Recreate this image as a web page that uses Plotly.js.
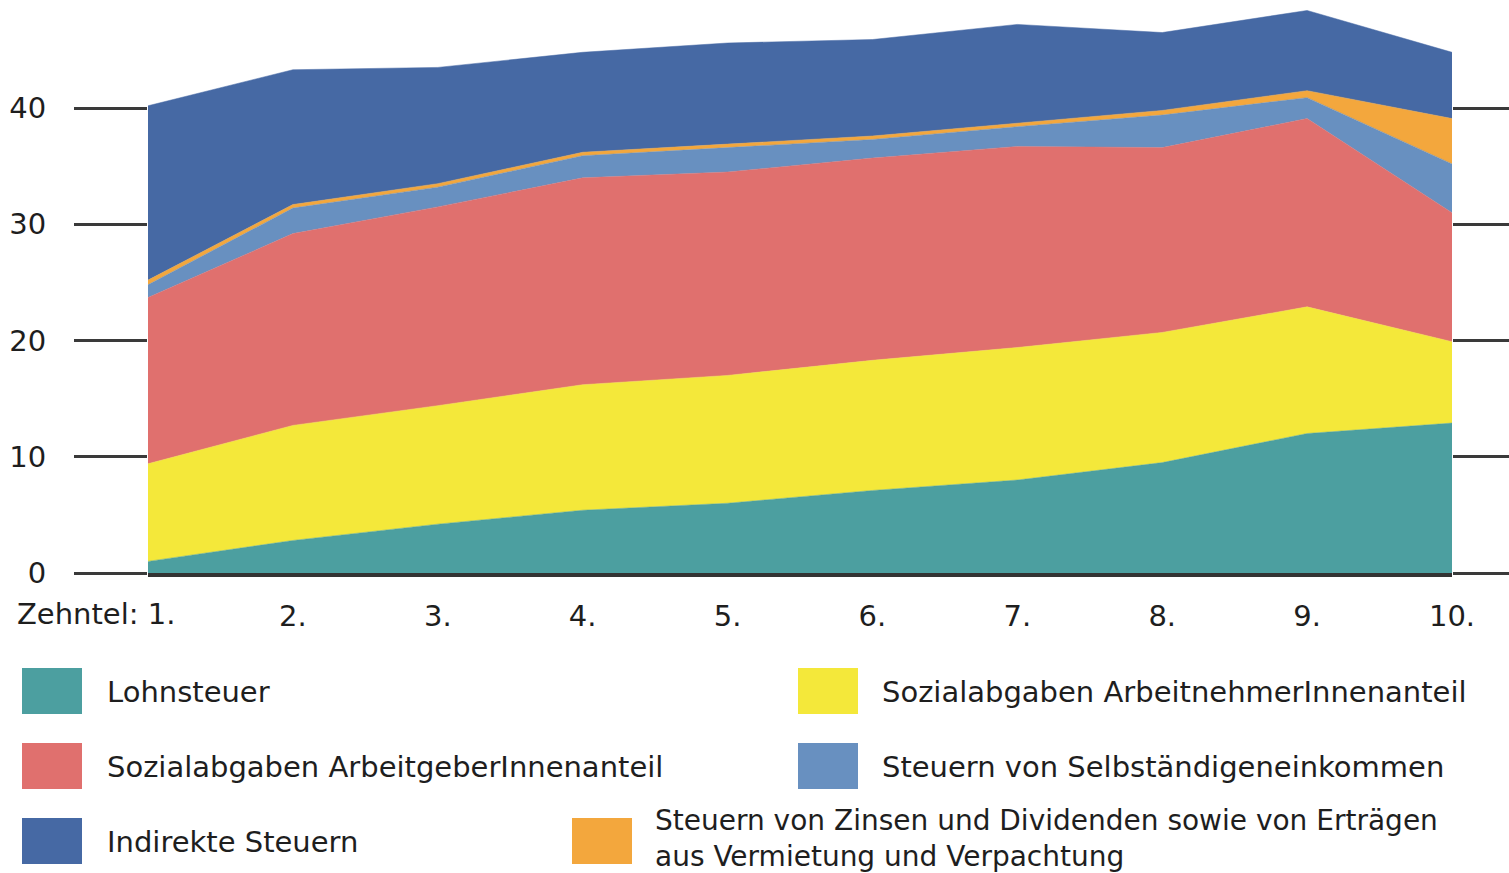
<!DOCTYPE html>
<html>
<head>
<meta charset="utf-8">
<script src="https://cdn.plot.ly/plotly-3.0.1.min.js"></script>
<style>html,body{margin:0;padding:0;background:#fff;}#chart{width:1509px;height:873px;}</style>
</head>
<body>
<div id="chart"></div>
<script>
// Categories (income deciles)
const deciles = [1, 2, 3, 4, 5, 6, 7, 8, 9, 10];
const decileLabels = ["1.", "2.", "3.", "4.", "5.", "6.", "7.", "8.", "9.", "10."];
const xPrefix = "Zehntel:";

// Series values (% of income), stacked bottom -> top
const lohnsteuer      = [1.0, 2.8, 4.2, 5.4, 6.0, 7.1, 8.0, 9.5, 12.0, 12.9];
const svArbeitnehmer  = [8.4, 9.9, 10.2, 10.8, 11.0, 11.2, 11.4, 11.2, 10.9, 7.0];
const svArbeitgeber   = [14.3, 16.5, 17.1, 17.8, 17.5, 17.4, 17.3, 15.9, 16.2, 11.1];
const selbstaendige   = [1.1, 2.2, 1.7, 1.9, 2.1, 1.6, 1.7, 2.8, 1.8, 4.2];
const zinsenErtraege  = [0.4, 0.3, 0.3, 0.3, 0.3, 0.3, 0.3, 0.4, 0.6, 3.9];
const indirekteSteuern= [15.0, 11.6, 10.0, 8.6, 8.7, 8.3, 8.5, 6.7, 6.9, 5.7];

const seriesNames = [
  "Lohnsteuer",
  "Sozialabgaben ArbeitnehmerInnenanteil",
  "Sozialabgaben ArbeitgeberInnenanteil",
  "Steuern von Selbständigeneinkommen",
  "Steuern von Zinsen und Dividenden sowie von Erträgen<br>aus Vermietung und Verpachtung",
  "Indirekte Steuern"
];
const seriesValues = [lohnsteuer, svArbeitnehmer, svArbeitgeber, selbstaendige, zinsenErtraege, indirekteSteuern];
const seriesColors = ["#4c9fa0", "#f4e83a", "#e0706e", "#6890c0", "#f3a73d", "#4669a4"];

const yTicks = [0, 10, 20, 30, 40];

const traces = seriesValues.map((vals, i) => ({
  type: "scatter",
  mode: "lines",
  x: deciles,
  y: vals,
  name: seriesNames[i],
  stackgroup: "one",
  line: {width: 0.5, color: seriesColors[i]},
  fillcolor: seriesColors[i],
  hoverinfo: "skip",
  showlegend: false
}));

// pixel -> paper helpers for legend placement
const L = 148, R = 57, T = 0, B = 300, W = 1509, H = 873;
const PW = W - L - R, PH = H - T - B;
const X = p => (p - L) / PW;
const Y = p => (H - B - p) / PH;

const legendPos = [
  {i: 0, sx: 22,  sy: 668, tx: 105, ty: 692, fs: 29},
  {i: 1, sx: 798, sy: 668, tx: 880, ty: 692, fs: 29},
  {i: 2, sx: 22,  sy: 743, tx: 105, ty: 767, fs: 29},
  {i: 3, sx: 798, sy: 743, tx: 880, ty: 767, fs: 29},
  {i: 5, sx: 22,  sy: 818, tx: 105, ty: 842, fs: 29},
  {i: 4, sx: 572, sy: 818, tx: 653, ty: 838, fs: 28}
];
const textFont = {family: "DejaVu Sans, Arial, sans-serif", size: 29, color: "#1e1e1e"};

const shapes = legendPos.map(p => ({
  type: "rect", xref: "paper", yref: "paper",
  x0: X(p.sx), x1: X(p.sx + 60), y0: Y(p.sy + 46), y1: Y(p.sy),
  fillcolor: seriesColors[p.i], line: {width: 0}
}));
const annotations = legendPos.map(p => ({
  xref: "paper", yref: "paper", x: X(p.tx), y: Y(p.ty),
  xanchor: "left", yanchor: "middle", align: "left",
  text: seriesNames[p.i], showarrow: false,
  font: Object.assign({}, textFont, {size: p.fs})
}));
// first category label carries the "Zehntel:" prefix, as in the original
annotations.push({
  xref: "paper", yref: "paper", x: X(177), y: Y(614),
  xanchor: "right", yanchor: "middle", text: xPrefix + " " + decileLabels[0], showarrow: false,
  font: textFont
});

const layout = {
  width: W, height: H,
  margin: {l: L, r: R, t: T, b: B},
  paper_bgcolor: "#ffffff", plot_bgcolor: "rgba(0,0,0,0)",
  hovermode: false,
  showlegend: false,
  xaxis: {
    range: [1, 10], tickvals: deciles,
    ticktext: decileLabels.map((t, i) => i === 0 ? "" : t),
    showgrid: false, zeroline: false,
    showline: true, linecolor: "#333", linewidth: 4,
    ticks: "", ticklabelstandoff: 14,
    tickfont: textFont
  },
  yaxis: {
    range: [0, 49.3], tickvals: yTicks, ticktext: yTicks.map(String),
    showgrid: false, zeroline: false, showline: false,
    ticks: "outside", ticklen: 73, tickwidth: 3, tickcolor: "#3a3a3a",
    mirror: "ticks", ticklabelstandoff: 22,
    tickfont: textFont
  },
  shapes: shapes,
  annotations: annotations
};

Plotly.newPlot("chart", traces, layout, {displayModeBar: false, staticPlot: true});
</script>
</body>
</html>
